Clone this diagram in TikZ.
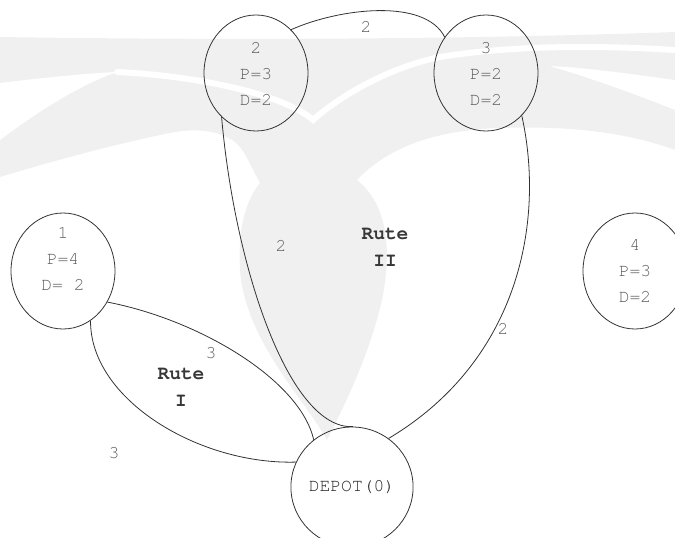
\documentclass[tikz,border=0pt]{standalone}
\usepackage{fontspec}
\setmainfont{TeX Gyre Cursor}
\usetikzlibrary{shapes.geometric}
\definecolor{wm}{RGB}{240,240,240}
\definecolor{linec}{RGB}{50,50,50}
\definecolor{txt}{RGB}{92,92,92}
\definecolor{dtxt}{RGB}{35,35,35}
\definecolor{rtxt}{RGB}{55,55,55}
\begin{document}
\begin{tikzpicture}[x=1pt,y=-1pt,
  city/.style={ellipse, draw=linec, line width=0.8pt, minimum width=104pt, minimum height=116pt, inner sep=0pt},
  depot/.style={ellipse, draw=linec, line width=0.8pt, minimum width=104pt, minimum height=120pt, inner sep=0pt, text=dtxt, font=\fontsize{18}{22}\selectfont},
  ntext/.style={text=txt, font=\fontsize{18}{26}\selectfont, align=center, inner sep=0pt},
  elabel/.style={text=txt, font=\fontsize{18}{22}\selectfont, inner sep=0pt},
  rute/.style={text=rtxt, font=\fontsize{19.5}{27}\selectfont\bfseries, align=center, inner sep=0pt},
  edge/.style={draw=linec, line width=0.8pt},
  wmark/.style={fill=wm, draw=none},
  wgap/.style={draw=white, line width=6pt, line cap=round}]
\useasboundingbox (0,0) rectangle (675,538);
% watermark
\path[wmark] (0,37) .. controls (200,40) and (450,40) .. (675,32)
  -- (675,150)
  .. controls (620,130) and (560,126) .. (500,128)
  .. controls (440,130) and (390,145) .. (357,180)
  .. controls (388,205) and (392,250) .. (382,300)
  .. controls (368,360) and (342,410) .. (327,440)
  .. controls (305,400) and (245,340) .. (240,270)
  .. controls (237,220) and (250,195) .. (260,183)
  .. controls (250,165) and (245,150) .. (235,142)
  .. controls (215,128) and (190,128) .. (160,135)
  .. controls (100,148) and (50,162) .. (0,177) -- cycle;
\path[fill=white] (0,83) .. controls (40,78) and (90,73) .. (117,72)
  .. controls (80,85) and (40,110) .. (0,140) -- cycle;
\path[fill=white] (675,80) .. controls (630,74) and (590,68) .. (550,66)
  .. controls (590,78) and (630,92) .. (675,110) -- cycle;
\draw[wgap] (117,72) .. controls (200,76) and (285,95) .. (313,120)
  .. controls (335,100) and (385,68) .. (440,57)
  .. controls (520,44) and (610,46) .. (675,50);
% cities
\node[city] (n1) at (63,271) {};
\node[ntext] (t1) at (63,259) {1\\P=4\\D= 2};
\node[city] (n2) at (256,73) {};
\node[ntext] (t2) at (256,74) {2\\P=3\\D=2};
\node[city] (n3) at (486,73) {};
\node[ntext] (t3) at (486,74) {3\\P=2\\D=2};
\node[city] (n4) at (635,271) {};
\node[ntext] (t4) at (635,271) {4\\P=3\\D=2};
\node[depot] (d) at (352,487) {DEPOT(0)};
% edges
\draw[edge] (n2.51) .. controls (340,8) and (425,-2) .. (n3.139);
\draw[edge] (n2.232) .. controls (235,270) and (290,430) .. (d.89);
\draw[edge] (n3.310) .. controls (545,220) and (520,360) .. (d.53);
\draw[edge] (n1.-35) .. controls (200,320) and (300,380) .. (d.129);
\draw[edge] (n1.-61.6) .. controls (90,400) and (200,465) .. (d.156.7);
% labels
\node[elabel] (l23) at (366,27) {2};
\node[elabel] (l2d) at (281,246) {2};
\node[elabel] (l3d) at (503,329) {2};
\node[elabel] (l1a) at (211,353) {3};
\node[elabel] (l1b) at (114,453) {3};
\node[rute] (r1) at (181,387) {Rute\\I};
\node[rute] (r2) at (385,247) {Rute\\II};
\end{tikzpicture}
\end{document}
